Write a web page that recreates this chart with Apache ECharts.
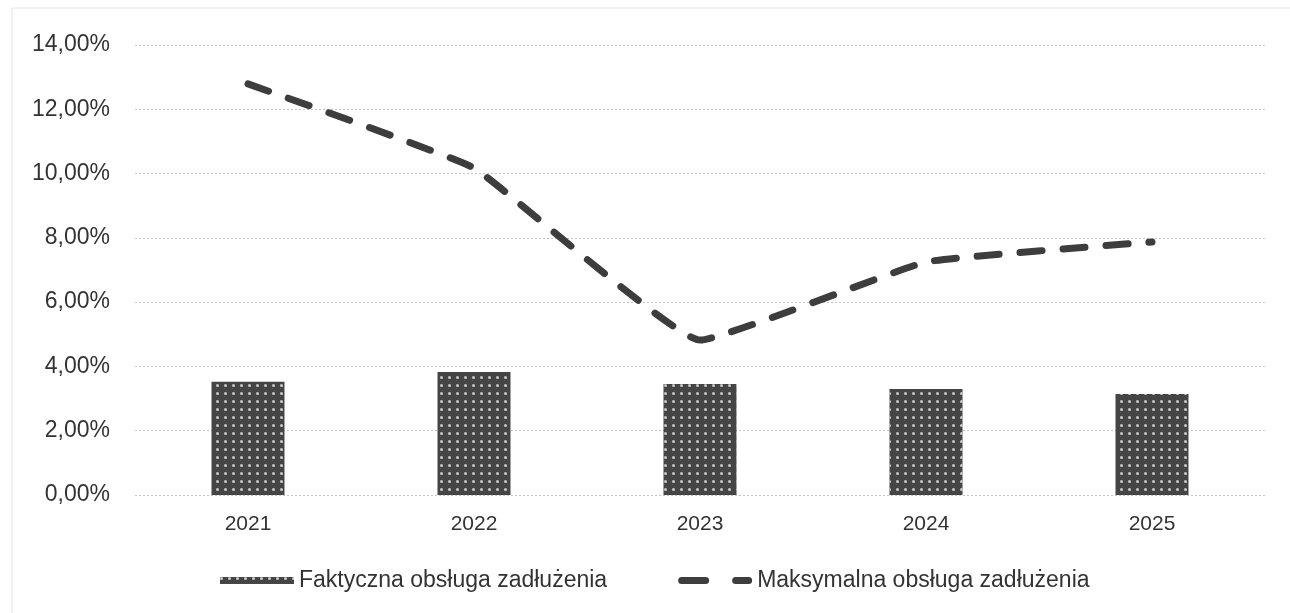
<!DOCTYPE html>
<html>
<head>
<meta charset="utf-8">
<script src="https://cdn.jsdelivr.net/npm/echarts@6/dist/echarts.min.js"></script>
<style>
  html, body { margin: 0; padding: 0; background: #fff; }
  #chart { width: 1290px; height: 613px; }
</style>
</head>
<body>
<div id="chart"></div>
<script>
// lata i wartości (w %)
const years = ['2021', '2022', '2023', '2024', '2025'];
const faktyczna = [3.52, 3.83, 3.45, 3.30, 3.14];
const maksymalna = [12.79, 10.17, 4.82, 7.25, 7.87];
const yTicks = [0, 2, 4, 6, 8, 10, 12, 14];

const fmt = v => v.toFixed(2).replace('.', ',') + '%';

// ikona legendy: dwie zaokrąglone kreski
const dashIcon = 'path://M3.5,0H27.5A3.5,3.5,0,0,1,27.5,7H3.5A3.5,3.5,0,0,1,3.5,0Z' +
    'M57.5,0H70.5A3.5,3.5,0,0,1,70.5,7H57.5A3.5,3.5,0,0,1,57.5,0Z';

const chart = echarts.init(document.getElementById('chart'));

chart.setOption({
    backgroundColor: '#fff',
    textStyle: { fontFamily: 'Liberation Sans, Arial, sans-serif' },
    grid: { left: 135, right: 25, top: 45, bottom: 118 },
    legend: {
        top: 564,
        left: 215,
        itemGap: 71,
        itemWidth: 74,
        itemHeight: 7,
        symbolKeepAspect: false,
        textStyle: { fontSize: 23, color: '#333' },
        data: [
            { name: 'Faktyczna obsługa zadłużenia', icon: 'rect' },
            {
                name: 'Maksymalna obsługa zadłużenia',
                icon: dashIcon,
                itemStyle: { color: '#3d3d3d' }
            }
        ]
    },
    xAxis: {
        type: 'category',
        data: years,
        axisLine: { show: false },
        axisTick: { show: false },
        axisLabel: { fontSize: 21, color: '#333', margin: 19 }
    },
    yAxis: {
        type: 'value',
        min: yTicks[0],
        max: yTicks[yTicks.length - 1],
        interval: 2,
        axisLabel: { fontSize: 23, color: '#333', margin: 25, formatter: fmt },
        splitLine: { lineStyle: { color: '#c4c4c4', type: [2, 2], width: 1 } }
    },
    series: [
        {
            name: 'Faktyczna obsługa zadłużenia',
            type: 'bar',
            data: faktyczna,
            barWidth: 73,
            itemStyle: {
                color: '#454545',
                decal: {
                    symbol: 'circle',
                    symbolSize: 1,
                    color: 'rgba(235,235,235,0.8)',
                    dashArrayX: [3, 5],
                    dashArrayY: [3, 5]
                }
            }
        },
        {
            name: 'Maksymalna obsługa zadłużenia',
            type: 'line',
            data: maksymalna,
            smooth: 0.1,
            symbol: 'none',
            lineStyle: { color: '#3d3d3d', width: 7, type: [22, 21], cap: 'round' },
            itemStyle: { color: '#3d3d3d' }
        }
    ],
    graphic: [
        {
            type: 'rect',
            shape: { x: 12, y: 8, width: 1300, height: 640 },
            style: { fill: 'none', stroke: '#e2e2e2', lineWidth: 1 },
            silent: true
        }
    ]
});
</script>
</body>
</html>
